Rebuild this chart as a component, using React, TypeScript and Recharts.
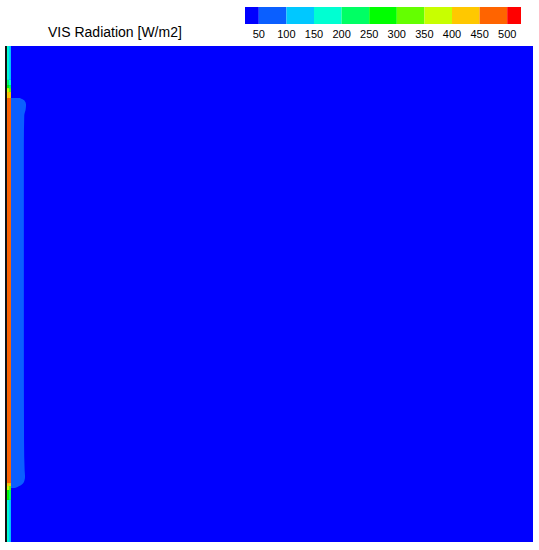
import {
  ComposedChart,
  Area,
  XAxis,
  YAxis,
  CartesianGrid,
  ReferenceArea,
} from "recharts";

// colour scale of the contour plot [W/m2]
const LEVEL_TICKS = [50, 100, 150, 200, 250, 300, 350, 400, 450, 500];
const LEVEL_EDGES = [25, 50, 100, 150, 200, 250, 300, 350, 400, 450, 500, 525];
const LEVEL_COLORS = [
  "#0000ff",
  "#0a5fff",
  "#00c8ff",
  "#00ffd2",
  "#00ff64",
  "#00ff00",
  "#64ff00",
  "#c8ff00",
  "#ffc800",
  "#ff6400",
  "#ff0000",
];

// room section [m]
const ROOM_WIDTH = 2.66;
const ROOM_HEIGHT = 2.5;

// 50 W/m2 contour in front of the window: height and distance from wall [m]
const CONTOUR_Y = [2.238, 2.225, 2.205, 2.18, 2.15, 2.0, 1.5, 1.0, 0.5, 0.36, 0.33, 0.31, 0.29, 0.272];
const CONTOUR_X = [0.075, 0.098, 0.106, 0.104, 0.097, 0.095, 0.095, 0.095, 0.096, 0.099, 0.101, 0.098, 0.085, 0.05];

// window cells: bands along the height, value in inner and outer cell column
const WALL_BREAKS = [0, 0.212, 0.262, 0.282, 0.297, 2.238, 2.268, 2.288, 2.303, 2.329, 2.5];
const WALL_INNER = [180, 280, 370, 430, 470, 430, 370, 290, 240, 180];
const WALL_OUTER = [130, 240, 320, 410, 460, 410, 320, 240, 170, 130];
const WALL_COLUMNS = [0, 0.01, 0.02, 0.03]; // frame | inner | outer

const colorFor = (v: number) => {
  let i = 0;
  while (i < LEVEL_TICKS.length && v >= LEVEL_TICKS[i]) i++;
  return LEVEL_COLORS[i];
};

const contourData = CONTOUR_Y.map((y, i) => ({ y, x: CONTOUR_X[i] }));

const wallCells = WALL_INNER.flatMap((inner, b) =>
  [inner, WALL_OUTER[b]].map((v, c) => ({
    key: `${b}-${c}`,
    fill: colorFor(v),
    data: [
      { y: WALL_BREAKS[b], x: [WALL_COLUMNS[c + 1], WALL_COLUMNS[c + 2]] },
      { y: WALL_BREAKS[b + 1], x: [WALL_COLUMNS[c + 1], WALL_COLUMNS[c + 2]] },
    ],
  }))
);

const frameData = [
  { y: 0, x: [WALL_COLUMNS[0], WALL_COLUMNS[1]] },
  { y: ROOM_HEIGHT, x: [WALL_COLUMNS[0], WALL_COLUMNS[1]] },
];

const FONT = "Arial, 'Liberation Sans', sans-serif";

export default function App() {
  return (
    <div style={{ position: "absolute", left: 0, top: 0, width: 539, height: 550, background: "#fff" }}>
      {/* title */}
      <svg width={539} height={45} style={{ position: "absolute", left: 0, top: 0 }}>
        <text x={48} y={37} fontFamily={FONT} fontSize={14} fill="#000">
          VIS Radiation [W/m2]
        </text>
      </svg>

      {/* colour bar */}
      <div style={{ position: "absolute", left: 0, top: 0 }}>
        <ComposedChart width={539} height={45} margin={{ top: 7, right: 18, bottom: 0, left: 245 }}>
          <XAxis
            type="number"
            dataKey="v"
            domain={[LEVEL_EDGES[0], LEVEL_EDGES[LEVEL_EDGES.length - 1]]}
            ticks={LEVEL_TICKS}
            interval={0}
            allowDataOverflow
            axisLine={false}
            tickLine={false}
            tickMargin={0}
            height={21}
            tick={{ fontSize: 11, fill: "#000", fontFamily: FONT }}
          />
          <YAxis type="number" domain={[0, 1]} hide allowDataOverflow />
          {LEVEL_COLORS.map((c, i) => (
            <ReferenceArea
              key={i}
              x1={LEVEL_EDGES[i]}
              x2={LEVEL_EDGES[i + 1]}
              y1={0}
              y2={1}
              fill={c}
              fillOpacity={1}
              stroke="none"
            />
          ))}
        </ComposedChart>
      </div>

      {/* contour field */}
      <div style={{ position: "absolute", left: 0, top: 0 }}>
        <ComposedChart
          width={539}
          height={550}
          layout="vertical"
          margin={{ top: 46, right: 6, bottom: 8, left: 5 }}
        >
          <CartesianGrid horizontal={false} vertical={false} fill={LEVEL_COLORS[0]} fillOpacity={1} />
          <XAxis type="number" dataKey="x" domain={[0, ROOM_WIDTH]} hide allowDataOverflow />
          <YAxis type="number" dataKey="y" domain={[0, ROOM_HEIGHT]} hide reversed allowDataOverflow />
          <Area
            data={contourData}
            dataKey="x"
            type="monotone"
            fill={LEVEL_COLORS[1]}
            fillOpacity={1}
            stroke="none"
            dot={false}
            activeDot={false}
            isAnimationActive={false}
          />
          {wallCells.map((cell) => (
            <Area
              key={cell.key}
              data={cell.data}
              dataKey="x"
              type="linear"
              fill={cell.fill}
              fillOpacity={1}
              stroke="none"
              dot={false}
              activeDot={false}
              isAnimationActive={false}
            />
          ))}
          <Area
            data={frameData}
            dataKey="x"
            type="linear"
            fill="#111"
            fillOpacity={1}
            stroke="none"
            dot={false}
            activeDot={false}
            isAnimationActive={false}
          />
        </ComposedChart>
      </div>
    </div>
  );
}
